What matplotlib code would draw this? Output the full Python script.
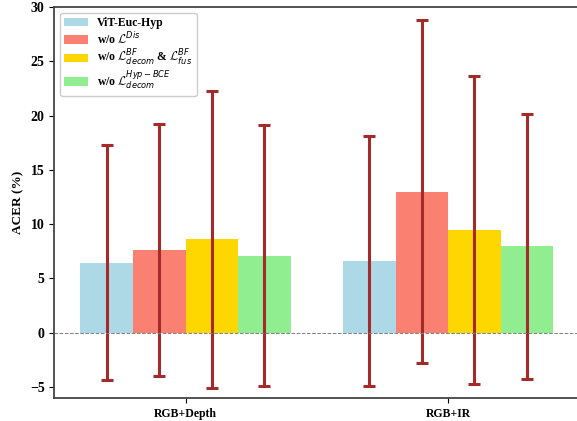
import matplotlib
matplotlib.use('Agg')
import matplotlib.pyplot as plt
import numpy as np

plt.rcParams['font.family'] = ['Liberation Serif', 'DejaVu Serif']
plt.rcParams['mathtext.fontset'] = 'custom'
plt.rcParams['mathtext.rm'] = 'DejaVu Sans'
plt.rcParams['mathtext.it'] = 'DejaVu Sans:italic'
plt.rcParams['mathtext.bf'] = 'DejaVu Sans:bold'
plt.rcParams['mathtext.cal'] = 'cmsy10'

groups = ['RGB+Depth', 'RGB+IR']
labels = ['ViT-Euc-Hyp',
          r'w/o $\mathcal{L}^{Dis}$',
          r'w/o $\mathcal{L}^{BF}_{decom}$ & $\mathcal{L}^{BF}_{fus}$',
          r'w/o $\mathcal{L}^{Hyp-BCE}_{decom}$']
means = [[6.45, 6.6], [7.6, 13.0], [8.6, 9.5], [7.1, 7.95]]
errs = [[10.85, 11.5], [11.6, 15.8], [13.7, 14.2], [12.0, 12.25]]
bar_colors = ['#ADD8E6', '#FA8072', '#FFD700', '#90EE90']

fig = plt.figure(figsize=(5.77, 4.21), dpi=100)
ax = fig.add_axes([0.094, 0.055, 0.91, 0.928])

x = np.arange(len(groups))
w = 0.2
for i in range(len(labels)):
    ax.bar(x + (i - 1.5) * w, means[i], w, yerr=errs[i], color=bar_colors[i],
           label=labels[i], capsize=4.5,
           error_kw=dict(ecolor='#A52A2A', elinewidth=2.2, capthick=2.2))

ax.axhline(0, color='gray', linestyle='--', linewidth=0.7)
ax.set_xlim(-0.5, 1.5)
ax.set_ylim(-6, 30)
ax.set_xticks(x)
ax.set_xticklabels(groups, fontweight='bold', fontsize=8.5)
ax.set_yticks([-5, 0, 5, 10, 15, 20, 25, 30])
for t in ax.get_yticklabels():
    t.set_fontweight('bold')
    t.set_fontsize(10)
ax.set_ylabel('ACER (%)', fontweight='bold', fontsize=9.5)
for s in ax.spines.values():
    s.set_color('#444444')
    s.set_linewidth(1.3)

ax.legend(loc='upper left', prop={'weight': 'bold', 'size': 8.5},
          framealpha=1, edgecolor='#cccccc', handlelength=2.0,
          labelspacing=0.12, borderpad=0.35)

fig.savefig('out.png', dpi=100)
